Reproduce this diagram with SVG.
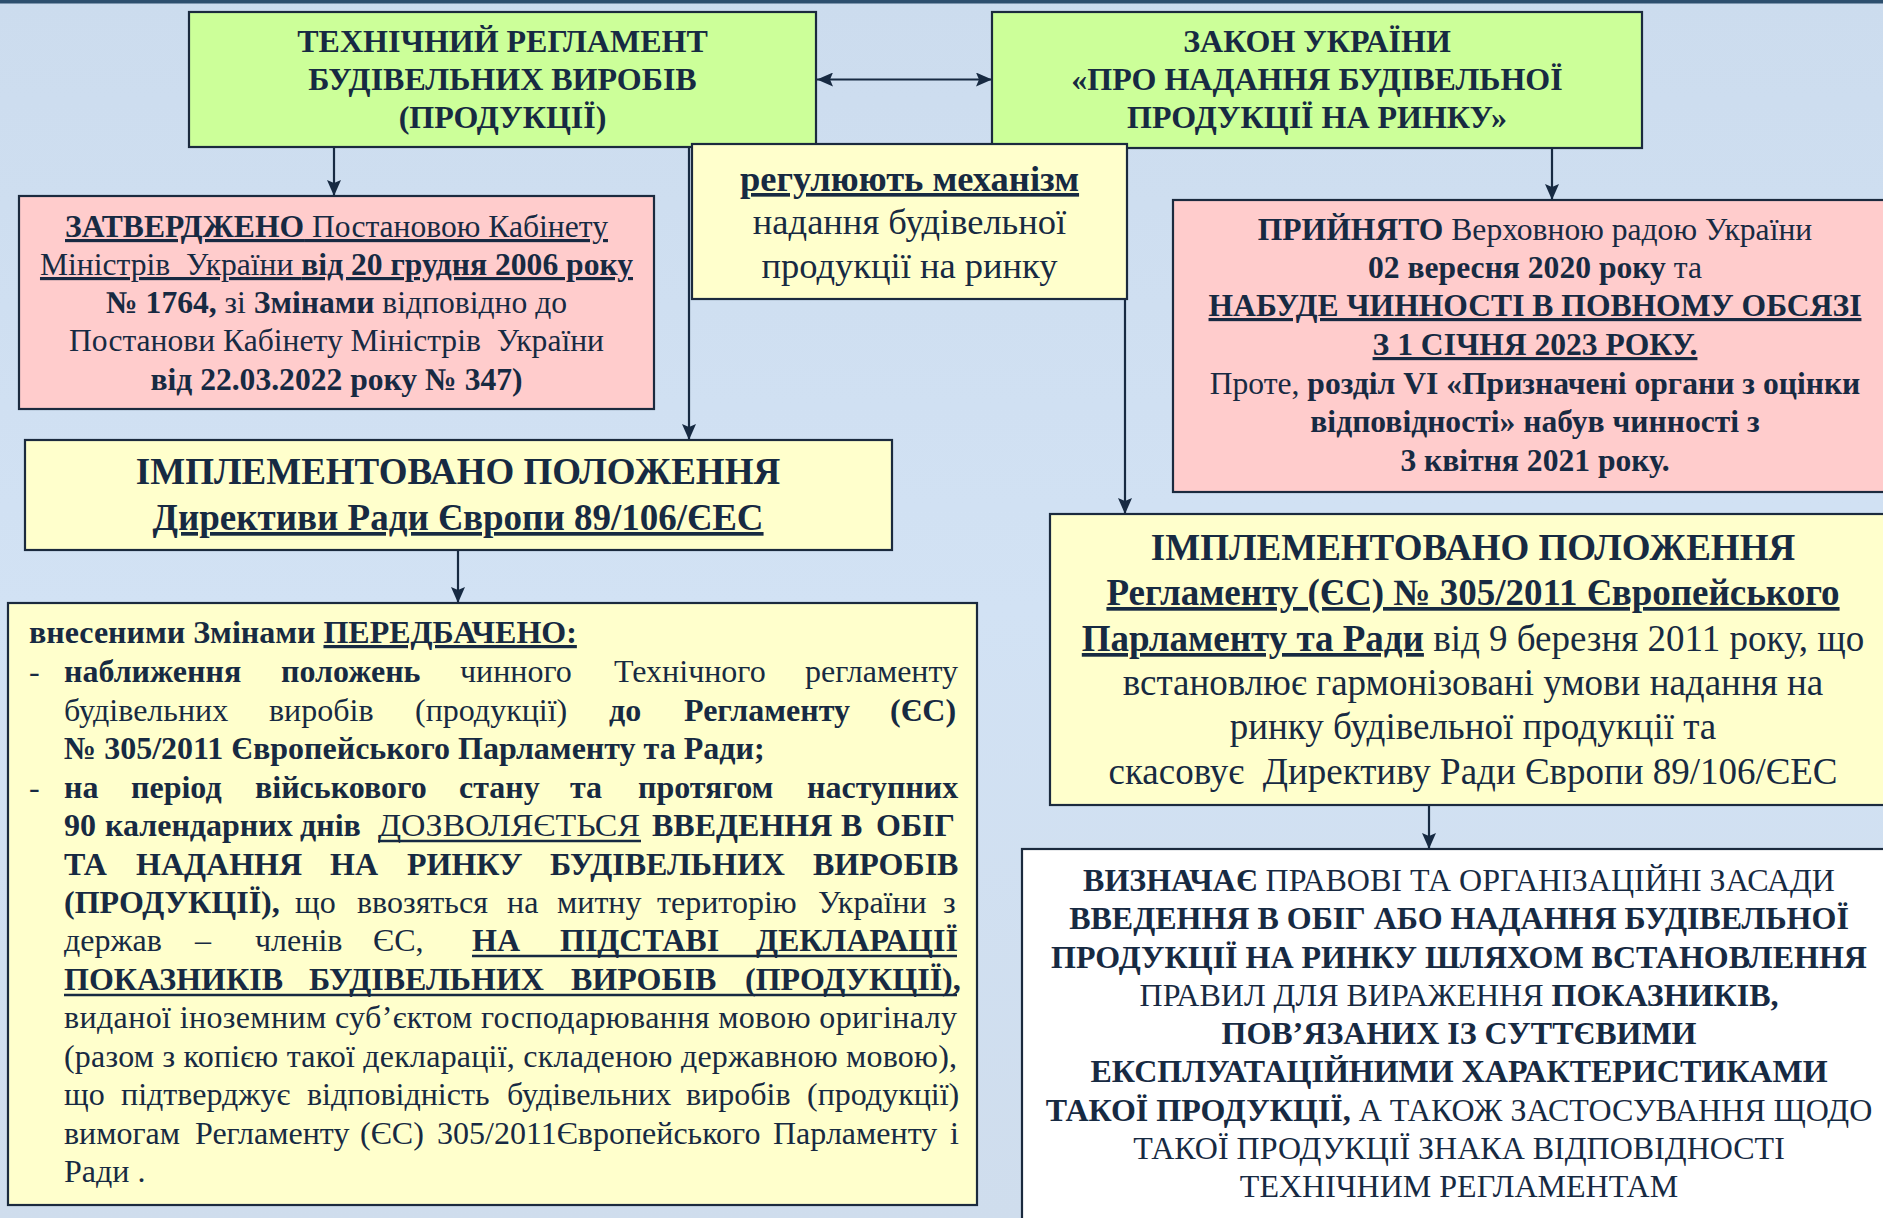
<svg xmlns="http://www.w3.org/2000/svg" width="1883" height="1218" viewBox="0 0 1883 1218">
<defs>
<linearGradient id="bg" x1="0" y1="0" x2="0" y2="1">
<stop offset="0" stop-color="#CCDCEE"/>
<stop offset="0.5" stop-color="#D2E2F4"/>
<stop offset="1" stop-color="#CFDDED"/>
</linearGradient>
<marker id="ah" markerUnits="userSpaceOnUse" markerWidth="16" markerHeight="14" refX="16" refY="7" orient="auto-start-reverse">
<path d="M0,0 L16,7 L0,14 L3,7 Z" fill="#172A42"/>
</marker>
</defs>
<style>
.t{font-family:"Liberation Serif","Times New Roman",serif;fill:#172A42}
.b{font-weight:bold}
.u{text-decoration:underline}
.box{stroke:#1B2A3E;stroke-width:2.2}
.g{fill:#CCFF99}.p{fill:#FFCCCC}.y{fill:#FFFFCC}.w{fill:#FFFFFF}
.c{stroke:#172A42;stroke-width:2.2;fill:none}
.ul{stroke:#172A42;stroke-width:2.4}
.s31{font-size:31.6px}.s32{font-size:32px}.s36{font-size:36.5px}.s37{font-size:37px}
.m{text-anchor:middle}
</style>
<rect width="1883" height="1218" fill="url(#bg)"/>
<rect width="1883" height="3.5" fill="#2D4F6E"/>

<g id="connectors">
<line class="c" x1="334" y1="147" x2="334" y2="196" marker-end="url(#ah)"/>
<line class="c" x1="817" y1="79.5" x2="992" y2="79.5" stroke-width="2.8" marker-start="url(#ah)" marker-end="url(#ah)"/>
<line class="c" x1="1552" y1="148" x2="1552" y2="200" marker-end="url(#ah)"/>
<line class="c" x1="689" y1="144" x2="689" y2="440" marker-end="url(#ah)"/>
<line class="c" x1="1125" y1="144" x2="1125" y2="514" marker-end="url(#ah)"/>
<line class="c" x1="458" y1="550" x2="458" y2="603" marker-end="url(#ah)"/>
<line class="c" x1="1429" y1="805" x2="1429" y2="849" marker-end="url(#ah)"/>
</g>

<g id="tech-reg">
<rect class="box g" x="189" y="12" width="627" height="135"/>
<text class="t b s32 m" x="502.5" y="52">ТЕХНІЧНИЙ РЕГЛАМЕНТ</text>
<text class="t b s32 m" x="502.5" y="90">БУДІВЕЛЬНИХ ВИРОБІВ</text>
<text class="t b s32 m" x="502.5" y="128">(ПРОДУКЦІЇ)</text>
</g>

<g id="law">
<rect class="box g" x="992" y="12" width="650" height="136"/>
<text class="t b s32 m" x="1317" y="52">ЗАКОН УКРАЇНИ</text>
<text class="t b s32 m" x="1317" y="90">«ПРО НАДАННЯ БУДІВЕЛЬНОЇ</text>
<text class="t b s32 m" x="1317" y="128">ПРОДУКЦІЇ НА РИНКУ»</text>
</g>

<g id="regulate">
<rect class="box y" x="692" y="144" width="435" height="155"/>
<text class="t b u s36 m" x="909.5" y="191">регулюють механізм</text>
<text class="t s36 m" x="909.5" y="234">надання будівельної</text>
<text class="t s36 m" x="909.5" y="278">продукції на ринку</text>
</g>

<g id="approved">
<rect class="box p" x="19" y="196" width="635" height="213"/>
<text class="t s31 m" x="336.5" y="237"><tspan class="b u">ЗАТВЕРДЖЕНО</tspan><tspan class="u"> Постановою Кабінету</tspan></text>
<text class="t s31 m" x="336.5" y="275" style="white-space:pre"><tspan class="u">Міністрів  України </tspan><tspan class="b u">від 20 грудня 2006 року</tspan></text>
<text class="t s31 m" x="336.5" y="313"><tspan class="b">№ 1764,</tspan> зі <tspan class="b">Змінами</tspan> відповідно до</text>
<text class="t s31 m" x="336.5" y="351" style="white-space:pre">Постанови Кабінету Міністрів  України</text>
<text class="t b s31 m" x="336.5" y="390">від 22.03.2022 року № 347)</text>
</g>

<g id="adopted">
<rect class="box p" x="1173" y="200" width="760" height="292"/>
<text class="t s31 m" x="1535" y="240"><tspan class="b">ПРИЙНЯТО</tspan> Верховною радою України</text>
<text class="t s31 m" x="1535" y="278"><tspan class="b">02 вересня 2020 року</tspan> та</text>
<text class="t b u s31 m" x="1535" y="316">НАБУДЕ ЧИННОСТІ В ПОВНОМУ ОБСЯЗІ</text>
<text class="t b u s31 m" x="1535" y="355">З 1 СІЧНЯ 2023 РОКУ.</text>
<text class="t s31 m" x="1535" y="394">Проте, <tspan class="b">розділ VI «Призначені органи з оцінки</tspan></text>
<text class="t b s31 m" x="1535" y="432">відповідності» набув чинності з</text>
<text class="t b s31 m" x="1535" y="471">3 квітня 2021 року.</text>
</g>

<g id="impl-directive">
<rect class="box y" x="25" y="440" width="867" height="110"/>
<text class="t b s37 m" x="458" y="484">ІМПЛЕМЕНТОВАНО ПОЛОЖЕННЯ</text>
<text class="t b u s37 m" x="458" y="530">Директиви Ради Європи 89/106/ЄЕС</text>
</g>

<g id="impl-regulation">
<rect class="box y" x="1050" y="514" width="880" height="291"/>
<text class="t b s37 m" x="1473" y="560">ІМПЛЕМЕНТОВАНО ПОЛОЖЕННЯ</text>
<text class="t b u s37 m" x="1473" y="605">Регламенту (ЄС) № 305/2011 Європейського</text>
<text class="t s37 m" x="1473" y="651"><tspan class="b u">Парламенту та Ради</tspan> від 9 березня 2011 року, що</text>
<text class="t s37 m" x="1473" y="695">встановлює гармонізовані умови надання на</text>
<text class="t s37 m" x="1473" y="739">ринку будівельної продукції та</text>
<text class="t s37 m" x="1473" y="784" style="white-space:pre">скасовує  Директиву Ради Європи 89/106/ЄЕС</text>
</g>

<g id="amendments">
<rect class="box y" x="8" y="603" width="969" height="602"/>
<text class="t s32" x="29" y="643"><tspan class="b">внесеними Змінами </tspan><tspan class="b u">ПЕРЕДБАЧЕНО:</tspan></text>
<text class="t s32" y="682"><tspan x="29">-</tspan><tspan class="b" x="64">наближення</tspan><tspan class="b" x="281">положень</tspan><tspan x="460">чинного</tspan><tspan x="614">Технічного</tspan><tspan x="805">регламенту</tspan></text>
<text class="t s32" y="721"><tspan x="64">будівельних</tspan><tspan x="269">виробів</tspan><tspan x="415">(продукції)</tspan><tspan class="b" x="609">до</tspan><tspan class="b" x="684">Регламенту</tspan><tspan class="b" x="890">(ЄС)</tspan></text>
<text class="t b s32" x="64" y="759">№ 305/2011 Європейського Парламенту та Ради;</text>
<text class="t s32" y="798"><tspan x="29">-</tspan><tspan class="b" x="64">на</tspan><tspan class="b" x="131">період</tspan><tspan class="b" x="255">військового</tspan><tspan class="b" x="459">стану</tspan><tspan class="b" x="570">та</tspan><tspan class="b" x="638">протягом</tspan><tspan class="b" x="807">наступних</tspan></text>
<text class="t s32" y="836"><tspan class="b" x="64">90</tspan><tspan class="b" x="105">календарних</tspan><tspan class="b" x="300">днів</tspan><tspan x="378" textLength="262" lengthAdjust="spacingAndGlyphs">ДОЗВОЛЯЄТЬСЯ</tspan><tspan class="b" x="652">ВВЕДЕННЯ</tspan><tspan class="b" x="841">В</tspan><tspan class="b" x="876">ОБІГ</tspan></text>
<text class="t b s32" y="875"><tspan x="64">ТА</tspan><tspan x="136">НАДАННЯ</tspan><tspan x="330">НА</tspan><tspan x="407">РИНКУ</tspan><tspan x="550">БУДІВЕЛЬНИХ</tspan><tspan x="813">ВИРОБІВ</tspan></text>
<text class="t s32" y="913"><tspan class="b" x="64">(ПРОДУКЦІЇ),</tspan><tspan x="295">що</tspan><tspan x="357">ввозяться</tspan><tspan x="507">на</tspan><tspan x="557">митну</tspan><tspan x="657">територію</tspan><tspan x="818">України</tspan><tspan x="943">з</tspan></text>
<text class="t s32" y="951"><tspan x="64">держав</tspan><tspan x="195">–</tspan><tspan x="255">членів</tspan><tspan x="373">ЄС,</tspan><tspan class="b" x="472">НА</tspan><tspan class="b" x="560">ПІДСТАВІ</tspan><tspan class="b" x="756">ДЕКЛАРАЦІЇ</tspan></text>
<text class="t b s32" y="990"><tspan x="64">ПОКАЗНИКІВ</tspan><tspan x="309">БУДІВЕЛЬНИХ</tspan><tspan x="571">ВИРОБІВ</tspan><tspan x="745">(ПРОДУКЦІЇ),</tspan></text>
<text class="t s32" x="64" y="1028" textLength="893" lengthAdjust="spacing">виданої іноземним суб’єктом господарювання мовою оригіналу</text>
<text class="t s32" x="64" y="1067" textLength="893" lengthAdjust="spacing">(разом з копією такої декларації, складеною державною мовою),</text>
<text class="t s32" y="1105"><tspan x="64">що</tspan><tspan x="121">підтверджує</tspan><tspan x="307">відповідність</tspan><tspan x="507">будівельних</tspan><tspan x="686">виробів</tspan><tspan x="807">(продукції)</tspan></text>
<text class="t s32" y="1144"><tspan x="64">вимогам</tspan><tspan x="195">Регламенту</tspan><tspan x="360">(ЄС)</tspan><tspan x="437">305/2011Європейського</tspan><tspan x="773">Парламенту</tspan><tspan x="950">і</tspan></text>
<text class="t s32" x="64" y="1182">Ради .</text>
<line class="ul" x1="378" y1="841" x2="641" y2="841"/>
<line class="ul" x1="472" y1="956" x2="957" y2="956"/>
<line class="ul" x1="64" y1="995" x2="957" y2="995"/>
</g>

<g id="defines">
<rect class="box w" x="1022" y="849" width="900" height="400"/>
<text class="t s32 m" x="1459" y="891"><tspan class="b">ВИЗНАЧАЄ</tspan> ПРАВОВІ ТА ОРГАНІЗАЦІЙНІ ЗАСАДИ</text>
<text class="t b s32 m" x="1459" y="929">ВВЕДЕННЯ В ОБІГ АБО НАДАННЯ БУДІВЕЛЬНОЇ</text>
<text class="t b s32 m" x="1459" y="968">ПРОДУКЦІЇ НА РИНКУ ШЛЯХОМ ВСТАНОВЛЕННЯ</text>
<text class="t s32 m" x="1459" y="1006">ПРАВИЛ ДЛЯ ВИРАЖЕННЯ <tspan class="b">ПОКАЗНИКІВ,</tspan></text>
<text class="t b s32 m" x="1459" y="1044">ПОВ’ЯЗАНИХ ІЗ СУТТЄВИМИ</text>
<text class="t b s32 m" x="1459" y="1082">ЕКСПЛУАТАЦІЙНИМИ ХАРАКТЕРИСТИКАМИ</text>
<text class="t s32 m" x="1459" y="1121"><tspan class="b">ТАКОЇ ПРОДУКЦІЇ,</tspan> А ТАКОЖ ЗАСТОСУВАННЯ ЩОДО</text>
<text class="t s32 m" x="1459" y="1159">ТАКОЇ ПРОДУКЦІЇ ЗНАКА ВІДПОВІДНОСТІ</text>
<text class="t s32 m" x="1459" y="1197">ТЕХНІЧНИМ РЕГЛАМЕНТАМ</text>
</g>
</svg>
